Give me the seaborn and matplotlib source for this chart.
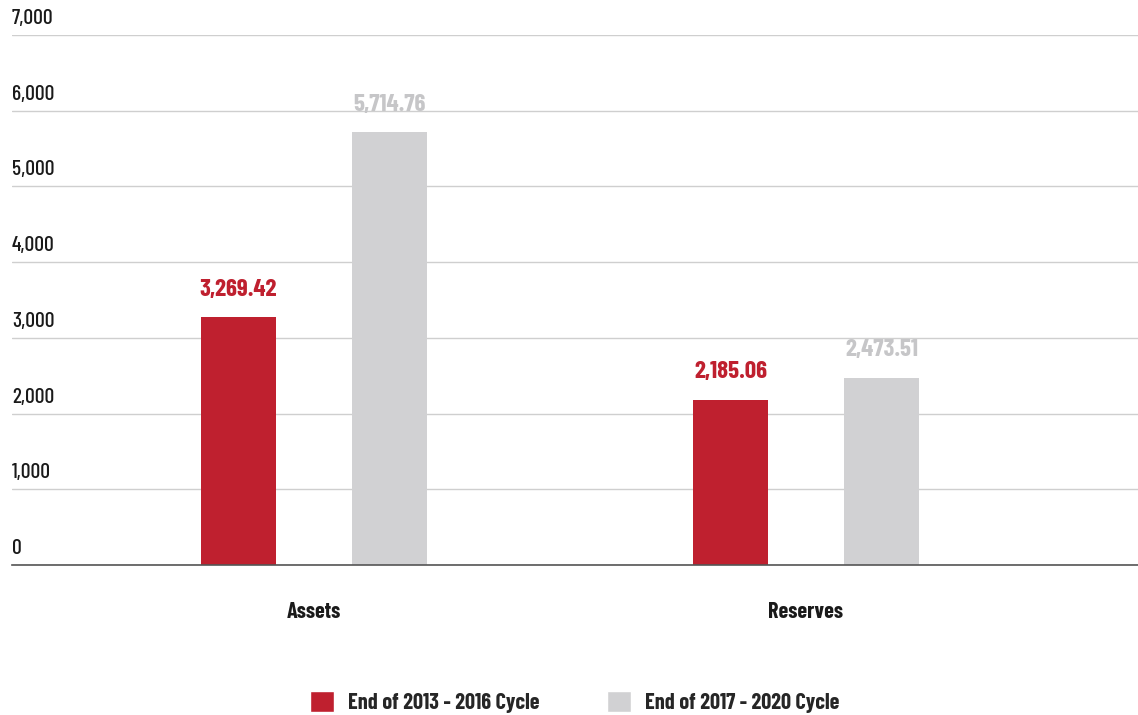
import matplotlib
matplotlib.use('Agg')
import matplotlib.pyplot as plt
import matplotlib.font_manager as fm
from matplotlib.patches import Patch
import seaborn as sns
import pandas as pd

# ====================== DATA ======================
categories = ['Assets', 'Reserves']
cycles = ['End of 2013 - 2016 Cycle', 'End of 2017 - 2020 Cycle']
values_2013_2016 = [3269.42, 2185.06]
values_2017_2020 = [5714.76, 2473.51]
y_ticks = [0, 1000, 2000, 3000, 4000, 5000, 6000, 7000]

RED = '#bf202f'
GRAY = '#d1d1d3'
GRAY_TXT = '#c6c6c8'
INK = '#1a1a1a'

sns.set_theme(style='white')
# condensed face, like the original; fall back to DejaVu condensed
names = {f.name for f in fm.fontManager.ttflist}
if 'Barlow Condensed' in names:
    plt.rcParams['font.family'] = ['Barlow Condensed', 'DejaVu Sans']
else:
    plt.rcParams['font.family'] = ['DejaVu Sans']
    plt.rcParams['font.stretch'] = 'condensed'

df = pd.DataFrame({
    'category': categories * 2,
    'cycle': [cycles[0]] * 2 + [cycles[1]] * 2,
    'value': values_2013_2016 + values_2017_2020,
})

fig = plt.figure(figsize=(11.38, 7.15), dpi=100)
ax = fig.add_axes([12 / 1138, 150 / 715, 1126 / 1138, 530 / 715])

sns.barplot(data=df, x='category', y='value', hue='cycle', order=categories,
            hue_order=cycles, palette=[RED, GRAY], width=0.614, gap=0.5,
            saturation=1, linewidth=0, legend=False, ax=ax)

ax.set_xlim(-0.614, 1.675)
ax.set_ylim(0, 7000)
ax.set_yticks(y_ticks)
ax.yaxis.grid(True, color='#cfcfcf', linewidth=1)
ax.set_axisbelow(True)
for s in ['top', 'right', 'left']:
    ax.spines[s].set_visible(False)
ax.spines['bottom'].set_color('#555555')
ax.spines['bottom'].set_linewidth(1.2)

# y labels sitting above the gridlines
ax.set_yticklabels([])
ax.tick_params(axis='y', length=0)
for t in y_ticks:
    ax.annotate(f'{t:,}', xy=(0, t), xycoords=('axes fraction', 'data'),
                xytext=(0, 5), textcoords='offset points', ha='left', va='bottom',
                fontsize=15.5, fontweight='medium', color=INK)

ax.set_xlabel('')
ax.set_ylabel('')
ax.tick_params(axis='x', length=0, pad=27)
for lbl in ax.get_xticklabels():
    lbl.set_fontsize(16)
    lbl.set_fontweight('bold')
    lbl.set_color(INK)

# value labels
for cont, col in zip(ax.containers, [RED, GRAY_TXT]):
    ax.bar_label(cont, labels=[f'{v:,.2f}' for v in cont.datavalues],
                 padding=12, color=col, fontsize=18, fontweight='bold')

handles = [Patch(facecolor=RED), Patch(facecolor=GRAY)]
fig.legend(handles, cycles, loc='lower center', bbox_to_anchor=(0.505, 0.003),
           ncol=2, frameon=False, prop={'weight': 'bold', 'size': 16},
           borderaxespad=0, borderpad=0,
           handlelength=1.1, handleheight=1.1, columnspacing=3.0, handletextpad=0.65)

fig.savefig('out.png', dpi=100, facecolor='white')
